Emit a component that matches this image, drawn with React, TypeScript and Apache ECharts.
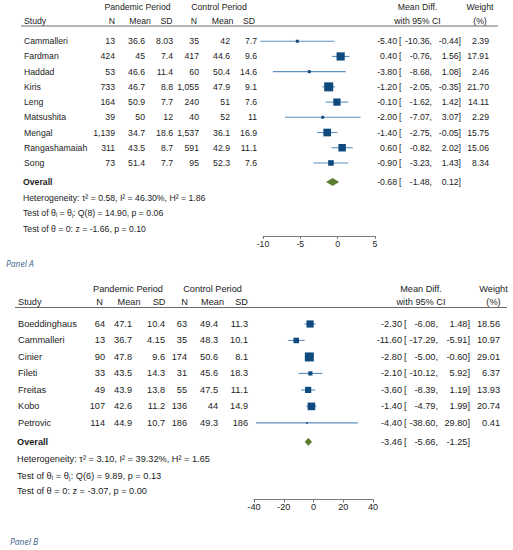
import React, { useEffect, useRef } from "react";
import * as echarts from "echarts";

// ---------- Panel A data ----------
const studiesA = ["Cammalleri", "Fardman", "Haddad", "Kiris", "Leng", "Matsushita", "Mengal", "Rangashamaiah", "Song"];
const pandNA = [13, 424, 53, 733, 164, 39, 1139, 311, 73];
const pandMeanA = [36.6, 45, 46.6, 46.7, 50.9, 50, 34.7, 43.5, 51.4];
const pandSDA = [8.03, 7.4, 11.4, 8.8, 7.7, 12, 18.6, 8.7, 7.7];
const ctrlNA = [35, 417, 60, 1055, 240, 40, 1537, 591, 95];
const ctrlMeanA = [42, 44.6, 50.4, 47.9, 51, 52, 36.1, 42.9, 52.3];
const ctrlSDA = [7.7, 9.6, 14.6, 9.1, 7.6, 11, 16.9, 11.1, 7.6];
const diffA = [-5.4, 0.4, -3.8, -1.2, -0.1, -2.0, -1.4, 0.6, -0.9];
const lowA = [-10.36, -0.76, -8.68, -2.05, -1.62, -7.07, -2.75, -0.82, -3.23];
const highA = [-0.44, 1.56, 1.08, -0.35, 1.42, 3.07, -0.05, 2.02, 1.43];
const weightA = [2.39, 17.91, 2.46, 21.7, 14.11, 2.29, 15.75, 15.06, 8.34];
const overallA = [-0.68, -1.48, 0.12];
const statsA = [
  "Heterogeneity: τ² = 0.58, I² = 46.30%, H² = 1.86",
  "Test of θᵢ = θⱼ: Q(8) = 14.90, p = 0.06",
  "Test of θ = 0: z = -1.66, p = 0.10",
];
const axisA = { min: -10, max: 5, interval: 5 };

// ---------- Panel B data ----------
const studiesB = ["Boeddinghaus", "Cammalleri", "Cinier", "Fileti", "Freitas", "Kobo", "Petrovic"];
const pandNB = [64, 13, 90, 33, 49, 107, 114];
const pandMeanB = [47.1, 36.7, 47.8, 43.5, 43.9, 42.6, 44.9];
const pandSDB = [10.4, 4.15, 9.6, 14.3, 13.8, 11.2, 10.7];
const ctrlNB = [63, 35, 174, 31, 55, 136, 186];
const ctrlMeanB = [49.4, 48.3, 50.6, 45.6, 47.5, 44, 49.3];
const ctrlSDB = [11.3, 10.1, 8.1, 18.3, 11.1, 14.9, 186];
const diffB = [-2.3, -11.6, -2.8, -2.1, -3.6, -1.4, -4.4];
const lowB = [-6.08, -17.29, -5.0, -10.12, -8.39, -4.79, -38.6];
const highB = [1.48, -5.91, -0.6, 5.92, 1.19, 1.99, 29.8];
const weightB = [18.56, 10.97, 29.01, 6.37, 13.93, 20.74, 0.41];
const overallB = [-3.46, -5.66, -1.25];
const statsB = [
  "Heterogeneity: τ² = 3.10, I² = 39.32%, H² = 1.65",
  "Test of θᵢ = θⱼ: Q(6) = 9.89, p = 0.13",
  "Test of θ = 0: z = -3.07, p = 0.00",
];
const axisB = { min: -40, max: 40, interval: 20 };

const FONT = "Liberation Sans";
const TEXT = "#1c1c1c";
const SQUARE = "#0e4a7e";
const CILINE = "#5f8fbf";
const DIAMOND = "#5a7e2c";

type Layout = {
  gridLeft: number; gridWidth: number; top: number; height: number; yMax: number;
  fs: number; sqK: number;
  off: { overall: number; stats: number[]; h1: number; h2: number };
  c: { study: number; pN: number; pMean: number; pSD: number; cN: number; cMean: number; cSD: number; est: number; br: number; lo: number; hi: number; wt: number };
  h: { pP: number; cP: number; N: number; Mean: number; SD: number; cNh: number; cMeanh: number; cSDh: number; md: number; wt: number; r1: number; r2: number };
};

const layoutA: Layout = {
  gridLeft: 263, gridWidth: 112, top: 26, height: 210, yMax: 12.8, fs: 8.7, sqK: 1.93,
  off: { overall: 0.25, stats: [1.3, 2.3, 3.33], h1: -2.25, h2: -1.3 },
  c: { study: 24, pN: 115, pMean: 145, pSD: 173, cN: 199, cMean: 230, cSD: 257, est: 397, br: 399, lo: 432, hi: 461, wt: 489 },
  h: { pP: 137.5, cP: 219, N: 112, Mean: 140, SD: 166.5, cNh: 194, cMeanh: 222.5, cSDh: 249, md: 417.5, wt: 480, r1: 21, r2: 498 },
};
const layoutB: Layout = {
  gridLeft: 254, gridWidth: 119, top: 307.5, height: 192, yMax: 10.65, fs: 9.2, sqK: 1.67,
  off: { overall: 0.15, stats: [1.18, 2.2, 3.12], h1: -2.12, h2: -1.33 },
  c: { study: 18, pN: 105, pMean: 132, pSD: 165, cN: 187, cMean: 218, cSD: 248, est: 402, br: 404, lo: 438, hi: 470, wt: 500 },
  h: { pP: 128, cP: 212.5, N: 99.5, Mean: 129, SD: 159, cNh: 184.5, cMeanh: 212.5, cSDh: 241.5, md: 421, wt: 493.5, r1: 15, r2: 507 },
};

const fmtN = (n: number) => n.toLocaleString("en-US");
const f2 = (v: number) => v.toFixed(2);

function txt(x: number, y: number, text: string, align: string, fs: number, bold = false) {
  return {
    type: "text",
    x, y,
    style: {
      text, align, verticalAlign: "middle", fill: TEXT,
      fontSize: fs, fontFamily: FONT, fontWeight: bold ? "bold" : "normal",
    },
  };
}

function ciTexts(L: Layout, y: number, est: number, lo: number, hi: number) {
  return [
    txt(L.c.est, y, f2(est), "right", L.fs),
    txt(L.c.br, y, "[", "left", L.fs),
    txt(L.c.lo, y, f2(lo) + ",", "right", L.fs),
    txt(L.c.hi, y, f2(hi) + "]", "right", L.fs),
  ];
}

function panelSeries(
  gi: number, L: Layout, studies: string[], pN: number[], pMean: number[], pSD: number[],
  cN: number[], cMean: number[], cSD: number[], diff: number[], low: number[], high: number[],
  weight: number[], overall: number[], stats: string[]
) {
  const n = studies.length;
  const studySeries = {
    type: "custom", xAxisIndex: gi, yAxisIndex: gi, clip: false, silent: true,
    data: diff.map((d, i) => [d, i]),
    renderItem: (params: any, api: any) => {
      const i = params.dataIndex;
      const y = api.coord([0, i])[1];
      const xl = api.coord([low[i], i])[0];
      const xh = api.coord([high[i], i])[0];
      const xm = api.coord([diff[i], i])[0];
      const s = Math.max(1.6, L.sqK * Math.sqrt(weight[i]));
      return {
        type: "group",
        children: [
          { type: "line", shape: { x1: xl, y1: y, x2: xh, y2: y }, style: { stroke: CILINE, lineWidth: 1.1 } },
          { type: "rect", shape: { x: xm - s / 2, y: y - s / 2, width: s, height: s }, style: { fill: SQUARE } },
          txt(L.c.study, y, studies[i], "left", L.fs),
          txt(L.c.pN, y, fmtN(pN[i]), "right", L.fs),
          txt(L.c.pMean, y, String(pMean[i]), "right", L.fs),
          txt(L.c.pSD, y, String(pSD[i]), "right", L.fs),
          txt(L.c.cN, y, fmtN(cN[i]), "right", L.fs),
          txt(L.c.cMean, y, String(cMean[i]), "right", L.fs),
          txt(L.c.cSD, y, String(cSD[i]), "right", L.fs),
          ...ciTexts(L, y, diff[i], low[i], high[i]),
          txt(L.c.wt, y, f2(weight[i]), "right", L.fs),
        ],
      };
    },
  };
  const overallSeries = {
    type: "custom", xAxisIndex: gi, yAxisIndex: gi, clip: false, silent: true,
    data: [[overall[0], n + L.off.overall]],
    renderItem: (params: any, api: any) => {
      const yv = n + L.off.overall;
      const y = api.coord([0, yv])[1];
      const xl = api.coord([overall[1], yv])[0];
      const xh = api.coord([overall[2], yv])[0];
      const xm = api.coord([overall[0], yv])[0];
      const hh = 3.6;
      const children: any[] = [
        {
          type: "polygon",
          shape: { points: [[xl, y], [xm, y - hh], [xh, y], [xm, y + hh]] },
          style: { fill: DIAMOND, stroke: "#4a6a22", lineWidth: 0.6 },
        },
        txt(L.c.study - 1, y, "Overall", "left", L.fs, true),
        ...ciTexts(L, y, overall[0], overall[1], overall[2]),
      ];
      stats.forEach((s, k) => {
        const ys = api.coord([0, n + L.off.stats[k]])[1];
        children.push(txt(L.c.study - 1, ys, s, "left", L.fs));
      });
      return { type: "group", children };
    },
  };
  const headerSeries = {
    type: "custom", xAxisIndex: gi, yAxisIndex: gi, clip: false, silent: true,
    data: [[0, -1]],
    renderItem: (params: any, api: any) => {
      const y1 = api.coord([0, L.off.h1])[1];
      const y2 = api.coord([0, L.off.h2])[1];
      const yr = api.coord([0, -1])[1];
      return {
        type: "group",
        children: [
          txt(L.h.pP, y1, "Pandemic Period", "center", L.fs),
          txt(L.h.cP, y1, "Control Period", "center", L.fs),
          txt(L.h.md, y1, "Mean Diff.", "center", L.fs),
          txt(L.h.wt, y1, "Weight", "center", L.fs),
          txt(L.c.study, y2, "Study", "left", L.fs),
          txt(L.h.N, y2, "N", "center", L.fs),
          txt(L.h.Mean, y2, "Mean", "center", L.fs),
          txt(L.h.SD, y2, "SD", "center", L.fs),
          txt(L.h.cNh, y2, "N", "center", L.fs),
          txt(L.h.cMeanh, y2, "Mean", "center", L.fs),
          txt(L.h.cSDh, y2, "SD", "center", L.fs),
          txt(L.h.md, y2, "with 95% CI", "center", L.fs),
          txt(L.h.wt, y2, "(%)", "center", L.fs),
          { type: "line", shape: { x1: L.h.r1, y1: yr, x2: L.h.r2, y2: yr }, style: { stroke: "#6a6a6a", lineWidth: 1 } },
        ],
      };
    },
  };
  return [studySeries, overallSeries, headerSeries];
}

function xAxisFor(gi: number, ax: { min: number; max: number; interval: number }, fs: number) {
  return {
    type: "value", gridIndex: gi, min: ax.min, max: ax.max, interval: ax.interval,
    axisLine: { show: true, onZero: false, lineStyle: { color: "#7a7a7a", width: 1 } },
    axisTick: { show: true, length: 3, lineStyle: { color: "#7a7a7a" } },
    axisLabel: { fontSize: fs, color: TEXT, fontFamily: FONT, margin: 3 },
    splitLine: { show: false },
  };
}
function yAxisFor(gi: number, L: Layout) {
  return { type: "value", gridIndex: gi, inverse: true, min: -1, max: L.yMax, show: false };
}

export default function App() {
  const ref = useRef<HTMLDivElement>(null);
  useEffect(() => {
    document.body.style.margin = "0";
    const chart = echarts.init(ref.current!, null, { renderer: "svg" });
    const option: any = {
      animation: false,
      backgroundColor: "#ffffff",
      grid: [
        { left: layoutA.gridLeft, width: layoutA.gridWidth, top: layoutA.top, height: layoutA.height },
        { left: layoutB.gridLeft, width: layoutB.gridWidth, top: layoutB.top, height: layoutB.height },
      ],
      xAxis: [xAxisFor(0, axisA, layoutA.fs), xAxisFor(1, axisB, layoutB.fs)],
      yAxis: [yAxisFor(0, layoutA), yAxisFor(1, layoutB)],
      series: [
        ...panelSeries(0, layoutA, studiesA, pandNA, pandMeanA, pandSDA, ctrlNA, ctrlMeanA, ctrlSDA, diffA, lowA, highA, weightA, overallA, statsA),
        ...panelSeries(1, layoutB, studiesB, pandNB, pandMeanB, pandSDB, ctrlNB, ctrlMeanB, ctrlSDB, diffB, lowB, highB, weightB, overallB, statsB),
      ],
      graphic: [
        { type: "text", left: 6, top: 259, style: { text: "Panel A", fill: "#3d5f8e", fontSize: 8.5, fontStyle: "italic", fontFamily: "Open Sans" } },
        { type: "text", left: 10, top: 537, style: { text: "Panel B", fill: "#3d5f8e", fontSize: 8.5, fontStyle: "italic", fontFamily: "Open Sans" } },
      ],
    };
    chart.setOption(option);
    return () => chart.dispose();
  }, []);
  return <div ref={ref} style={{ width: 513, height: 550 }} />;
}
